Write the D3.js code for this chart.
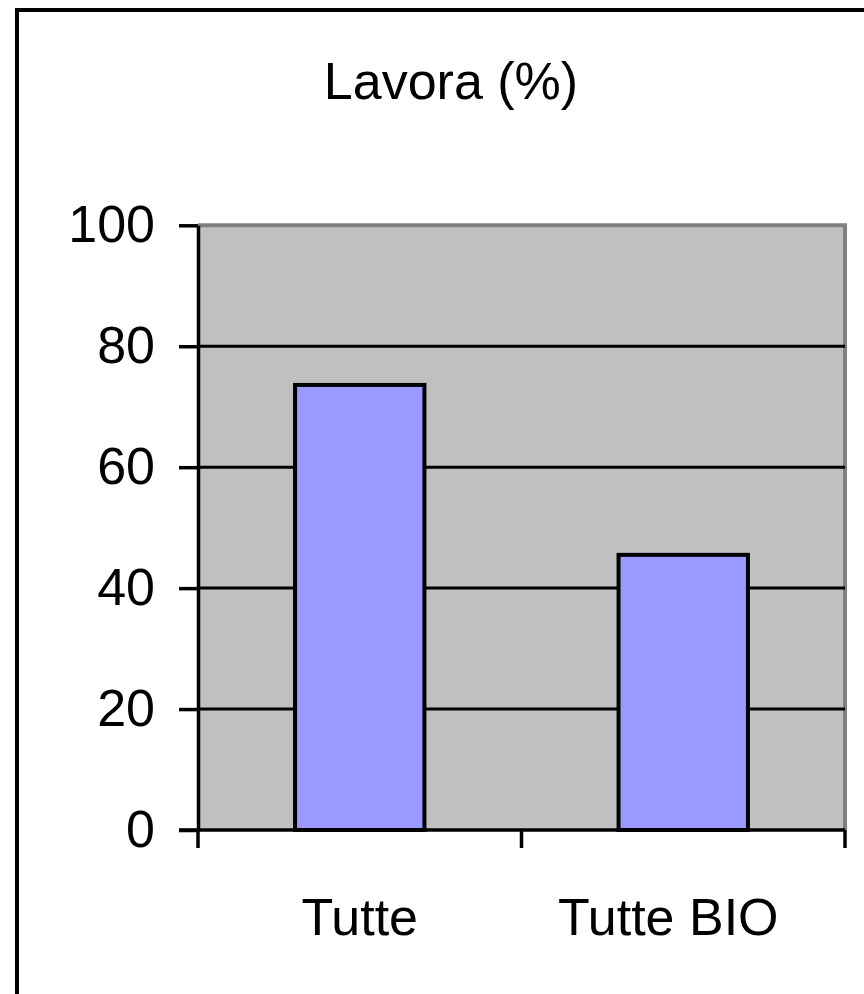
<!DOCTYPE html>
<html>
<head>
<meta charset="utf-8">
<script src="https://cdn.jsdelivr.net/npm/d3@7"></script>
<style>
  html, body { margin: 0; padding: 0; background: #fff; }
  svg { display: block; }
  text { font-family: Arial, "Liberation Sans", sans-serif; fill: #000; }
</style>
</head>
<body>
<svg id="chart" width="864" height="994"></svg>
<script>
const titleText = "Lavora (%)";
const categories = ["Tutte", "Tutte BIO"];
const values = [73.6, 45.5];
const yTicks = [0, 20, 40, 60, 80, 100];
const labelShift = [0, -15];

const svg = d3.select("#chart");

// outer chart border (extends past the viewport)
svg.append("rect")
  .attr("x", 17).attr("y", 10)
  .attr("width", 1000).attr("height", 1100)
  .attr("fill", "#fff").attr("stroke", "#000").attr("stroke-width", 4);

const plot = { left: 198, right: 845, top: 225.3, bottom: 830 };

const x = d3.scaleBand()
  .domain(categories)
  .range([plot.left, plot.right])
  .paddingInner(0.6).paddingOuter(0.3);

const y = d3.scaleLinear().domain([0, 100]).range([plot.bottom, plot.top]);

// plot area background
svg.append("rect")
  .attr("x", plot.left).attr("y", plot.top)
  .attr("width", plot.right - plot.left).attr("height", plot.bottom - plot.top)
  .attr("fill", "#c0c0c0");

// top and right gray border
svg.append("path")
  .attr("d", `M${plot.left},${plot.top}H${plot.right}V${plot.bottom}`)
  .attr("fill", "none").attr("stroke", "#808080").attr("stroke-width", 4);

// gridlines
svg.append("g").selectAll("line")
  .data(yTicks.filter(d => d > 0 && d < 100))
  .join("line")
  .attr("x1", plot.left).attr("x2", plot.right)
  .attr("y1", d => y(d)).attr("y2", d => y(d))
  .attr("stroke", "#000").attr("stroke-width", 3);

// bars
svg.append("g").selectAll("rect")
  .data(values)
  .join("rect")
  .attr("x", (d, i) => x(categories[i]))
  .attr("width", x.bandwidth())
  .attr("y", d => y(d))
  .attr("height", d => y(0) - y(d))
  .attr("fill", "#9999ff")
  .attr("stroke", "#000").attr("stroke-width", 4);

// y axis
const yAxis = d3.axisLeft(y).tickValues(yTicks).tickSize(19).tickPadding(24).tickSizeOuter(0);
const gy = svg.append("g").attr("transform", `translate(${plot.left},0)`).call(yAxis);
gy.select(".domain").attr("stroke", "#000").attr("stroke-width", 3.5);
gy.selectAll(".tick line").attr("stroke", "#000").attr("stroke-width", 3.5);
gy.selectAll(".tick text")
  .style("font-family", "Arial, 'Liberation Sans', sans-serif")
  .style("font-size", "52px").attr("fill", "#000");

// x axis
const xEdges = d3.scaleLinear().domain([0, categories.length]).range([plot.left, plot.right]);
const gx = svg.append("g");
gx.append("line")
  .attr("x1", plot.left - 19).attr("x2", plot.right)
  .attr("y1", plot.bottom).attr("y2", plot.bottom)
  .attr("stroke", "#000").attr("stroke-width", 3.5);
gx.selectAll("line.tk")
  .data(d3.range(categories.length + 1))
  .join("line").attr("class", "tk")
  .attr("x1", d => xEdges(d)).attr("x2", d => xEdges(d))
  .attr("y1", plot.bottom).attr("y2", plot.bottom + 18)
  .attr("stroke", "#000").attr("stroke-width", 3.5);
gx.selectAll("text")
  .data(categories)
  .join("text")
  .attr("x", (d, i) => xEdges(i + 0.5) + labelShift[i])
  .attr("y", 935)
  .attr("text-anchor", "middle")
  .style("font-size", "52px")
  .text(d => d);

// title
svg.append("text")
  .attr("x", 451).attr("y", 99)
  .attr("text-anchor", "middle")
  .style("font-size", "52px")
  .text(titleText);
</script>
</body>
</html>
